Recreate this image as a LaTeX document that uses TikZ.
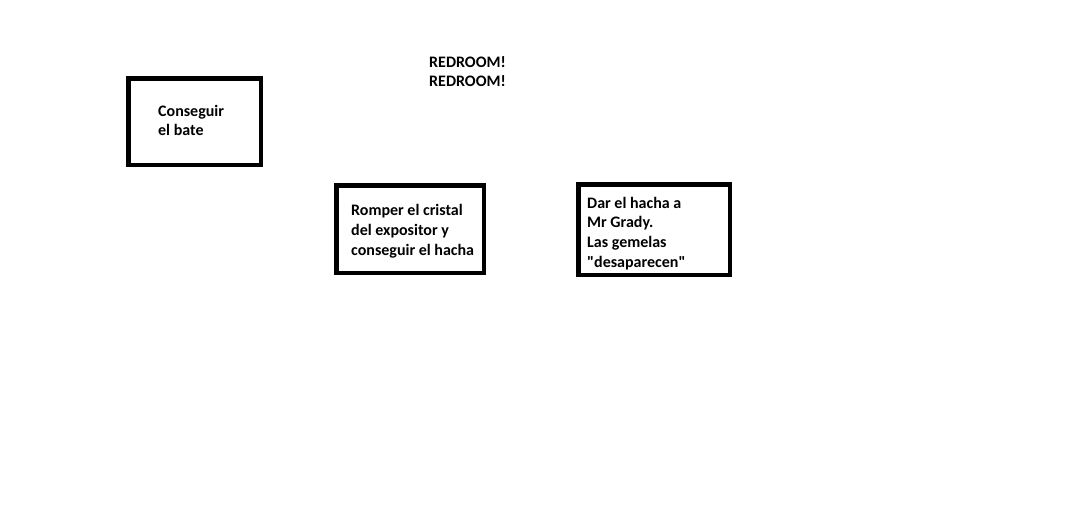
\documentclass[tikz,border=0pt]{standalone}
\usepackage{fontspec}
\setmainfont{Carlito}[Ligatures=TeXOff]
\begin{document}
\begin{tikzpicture}[x=1pt,y=-1pt,
        caja/.style={draw=black, line width=4.5pt, rectangle, inner sep=0pt},
        texto/.style={anchor=west, align=left, inner sep=0pt, font=\bfseries\fontsize{16}{19.8}\selectfont}]
            \useasboundingbox (0,0) rectangle (1090,512);
            \node[caja, minimum width=132.5pt, minimum height=86.5pt] (bate) at (194.5,121.5) {};
            \node[caja, minimum width=147.5pt, minimum height=87.5pt] (cristal) at (410,229) {};
            \node[caja, minimum width=151.5pt, minimum height=90.5pt] (grady) at (654,229.5) {};
            \node[texto] (bateT) at (158,120.5) {Conseguir\\el bate};
            \node[texto] (cristalT) at (351,231.5) {Romper el cristal\\del expositor y\\conseguir el hacha};
            \node[texto] (gradyT) at (587,233.5) {Dar el hacha a\\Mr Grady.\\Las gemelas\\"desaparecen"};
            \node[texto] (redroom) at (429,71.5) {REDROOM!\\REDROOM!};
        \end{tikzpicture}
\end{document}
